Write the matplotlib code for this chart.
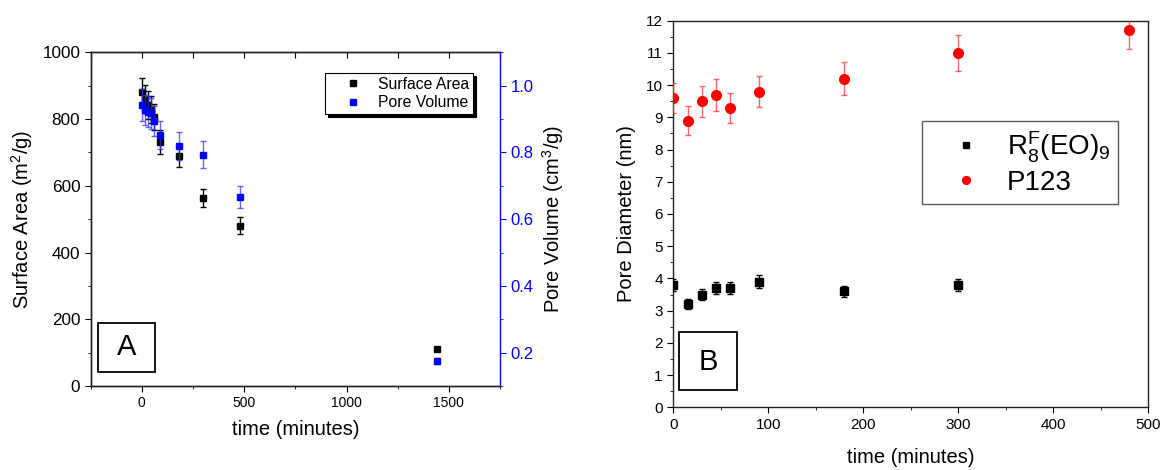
import matplotlib as mpl
mpl.use("Agg")
import matplotlib.pyplot as plt
from matplotlib.patches import Rectangle
from matplotlib.ticker import MultipleLocator

# panel A: surface area and pore volume vs time
time_a = [0, 15, 30, 45, 60, 90, 180, 300, 480, 1440]
surface_area = [880, 860, 843, 828, 806, 730, 690, 563, 481, 111]
surface_err = [44, 43, 42, 41, 40, 36, 34, 28, 24, 6]
pore_volume = [0.942, 0.927, 0.922, 0.917, 0.894, 0.852, 0.819, 0.793, 0.667, 0.175]
volume_err = [0.047, 0.046, 0.046, 0.046, 0.045, 0.043, 0.041, 0.040, 0.033, 0.009]

# panel B: pore diameter vs time
time_rf = [0, 15, 30, 45, 60, 90, 180, 300]
diam_rf = [3.8, 3.2, 3.5, 3.7, 3.7, 3.9, 3.6, 3.8]
diam_rf_err = [0.19, 0.16, 0.18, 0.19, 0.19, 0.20, 0.18, 0.19]
time_p123 = [0, 15, 30, 45, 60, 90, 180, 300, 480]
diam_p123 = [9.6, 8.9, 9.5, 9.7, 9.3, 9.8, 10.2, 11.0, 11.7]
diam_p123_err = [0.48, 0.45, 0.48, 0.49, 0.47, 0.49, 0.51, 0.55, 0.59]

plt.rcParams.update({
    "font.family": ["Liberation Sans", "DejaVu Sans"],
    "mathtext.fontset": "custom",
    "mathtext.rm": "Liberation Sans",
    "mathtext.it": "Liberation Sans",
    "axes.linewidth": 1.0,
    "axes.edgecolor": "#222222",
    "xtick.major.size": 4,
    "ytick.major.size": 4,
    "xtick.minor.size": 2.5,
    "ytick.minor.size": 2.5,
})

fig = plt.figure(figsize=(11.64, 4.70), dpi=100)
ax_a = fig.add_axes([0.0779, 0.1787, 0.3517, 0.7100])
ax_b = fig.add_axes([0.5784, 0.1334, 0.4082, 0.8226])

BLUE = "#0000ff"

# ---- panel A ----
sa = ax_a.errorbar(time_a, surface_area, yerr=surface_err, fmt="s", color="black",
                   ms=5, ecolor="black", elinewidth=1, capsize=2.5, capthick=1,
                   zorder=3)
ax_a.set_xlim(-250, 1750)
ax_a.set_ylim(0, 1000)
ax_a.xaxis.set_major_locator(MultipleLocator(500))
ax_a.xaxis.set_minor_locator(MultipleLocator(250))
ax_a.yaxis.set_major_locator(MultipleLocator(200))
ax_a.yaxis.set_minor_locator(MultipleLocator(100))
ax_a.tick_params(which="both", direction="out", right=False, top=False)
ax_a.tick_params(axis="x", labelsize=10)
ax_a.tick_params(axis="y", labelsize=12.3)
ax_a.spines["right"].set_visible(False)
ax_a.set_xlabel("time (minutes)", fontsize=14.5, labelpad=7)
ax_a.set_ylabel("Surface Area (m$^2$/g)", fontsize=14.5, labelpad=5)

top = ax_a.secondary_xaxis("top")
top.xaxis.set_major_locator(MultipleLocator(250))
top.tick_params(direction="in", labeltop=False, length=4)

ax_v = ax_a.twinx()
pv = ax_v.errorbar(time_a, pore_volume, yerr=volume_err, fmt="s", color=BLUE,
                   ms=5, ecolor=(0.2, 0.2, 1.0, 0.75), elinewidth=1, capsize=2.5,
                   capthick=1, zorder=3)
ax_v.set_ylim(0.1, 1.1)
ax_v.yaxis.set_major_locator(MultipleLocator(0.2))
ax_v.yaxis.set_minor_locator(MultipleLocator(0.1))
ax_v.spines["right"].set_color(BLUE)
ax_v.spines["top"].set_visible(False)
ax_v.tick_params(axis="y", which="both", colors=BLUE, direction="out")
ax_v.tick_params(axis="y", labelsize=12)
ax_v.set_ylabel("Pore Volume (cm$^3$/g)", fontsize=14.5, color="black", labelpad=5)

leg_a = ax_v.legend([sa[0], pv[0]], ["Surface Area", "Pore Volume"], loc="upper right",
                    bbox_to_anchor=(0.934, 0.938), borderaxespad=0, fontsize=11.3,
                    frameon=True, fancybox=False, edgecolor="black",
                    shadow={"color": "black", "alpha": 1.0},
                    markerscale=0.8, handlelength=3.0, handletextpad=0.1,
                    borderpad=0.25, labelspacing=0.2)
leg_a.get_frame().set_linewidth(0.8)

ax_a.add_patch(Rectangle((0.017, 0.043), 0.14, 0.146, transform=ax_a.transAxes,
                         fill=False, ec="black", lw=1.3, clip_on=False, zorder=5))
ax_a.text(0.087, 0.116, "A", transform=ax_a.transAxes, fontsize=21,
          ha="center", va="center")

# ---- panel B ----
rf = ax_b.errorbar(time_rf, diam_rf, yerr=diam_rf_err, fmt="s", color="black",
                   ms=6, ecolor="black", elinewidth=1, capsize=2.5, capthick=1,
                   zorder=3)
p123 = ax_b.errorbar(time_p123, diam_p123, yerr=diam_p123_err, fmt="o", color="#ff0000",
                     ms=7, ecolor=(1.0, 0.2, 0.2, 0.75), elinewidth=1, capsize=2.5,
                     capthick=1, zorder=3)
ax_b.set_xlim(0, 500)
ax_b.set_ylim(0, 12)
ax_b.xaxis.set_major_locator(MultipleLocator(100))
ax_b.xaxis.set_minor_locator(MultipleLocator(50))
ax_b.yaxis.set_major_locator(MultipleLocator(1))
ax_b.yaxis.set_minor_locator(MultipleLocator(0.5))
ax_b.tick_params(which="both", direction="out", top=False, right=False)
ax_b.tick_params(labelsize=11)
ax_b.set_xlabel("time (minutes)", fontsize=14.5, labelpad=12)
ax_b.set_ylabel("Pore Diameter (nm)", fontsize=14.5, labelpad=7)

leg_b = ax_b.legend([rf[0], p123[0]], [r"$\mathregular{R^F_8(EO)_9}$", "P123"],
                    loc="upper right", bbox_to_anchor=(0.937, 0.7406),
                    borderaxespad=0, fontsize=20, frameon=True, fancybox=False,
                    edgecolor="#333333", markerscale=0.8, handlelength=2.6,
                    handletextpad=0.15, borderpad=0.3, labelspacing=0.2)
leg_b.get_frame().set_linewidth(1.0)

ax_b.add_patch(Rectangle((0.0126, 0.045), 0.1214, 0.149, transform=ax_b.transAxes,
                         fill=False, ec="black", lw=1.3, clip_on=False, zorder=5))
ax_b.text(0.073, 0.118, "B", transform=ax_b.transAxes, fontsize=21,
          ha="center", va="center")

fig.savefig("out.png", dpi=100)
